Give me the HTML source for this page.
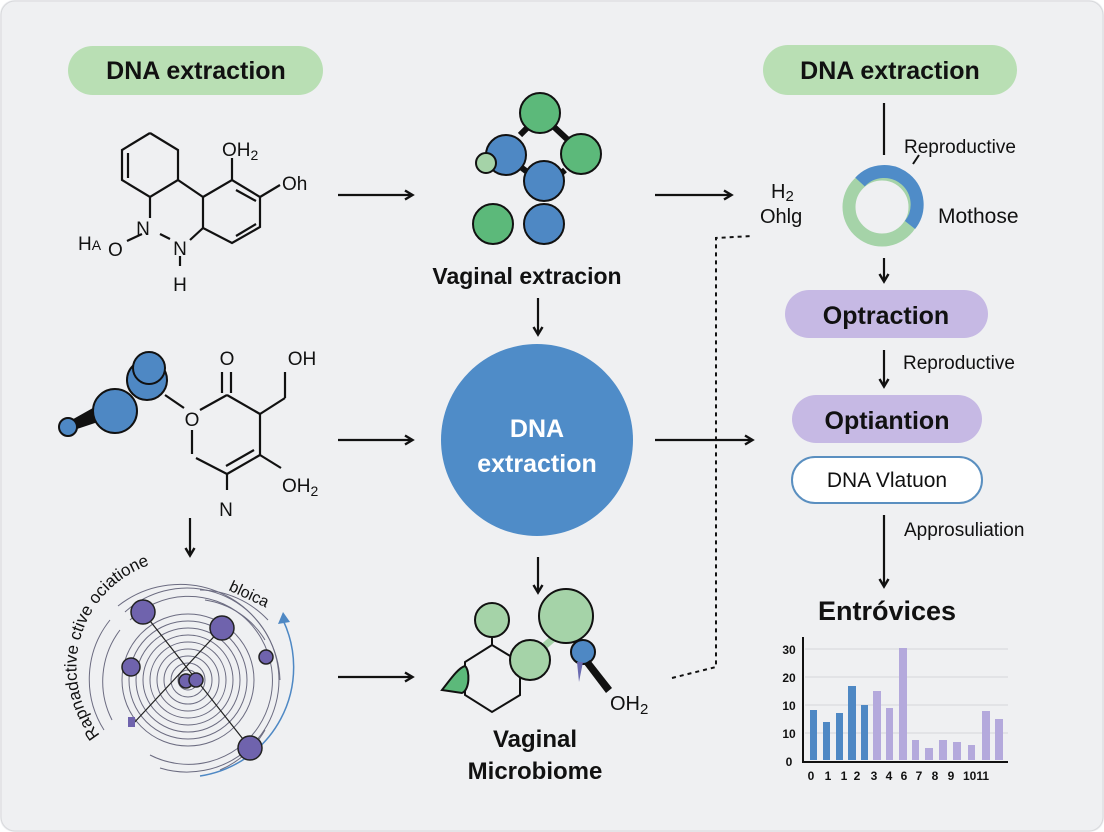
<!DOCTYPE html>
<html><head><meta charset="utf-8"><style>
html,body{margin:0;padding:0;background:#fff;}
svg{display:block;font-family:"Liberation Sans",sans-serif;}
</style></head><body>
<svg width="1104" height="832" viewBox="0 0 1104 832" xmlns="http://www.w3.org/2000/svg">
<defs>
<marker id="ah" markerWidth="12" markerHeight="12" refX="9" refY="6" orient="auto" markerUnits="userSpaceOnUse"><path d="M2,1.5 L9.5,6 L2,10.5" fill="none" stroke="#111" stroke-width="2.4"/></marker>
<path id="arcT" d="M100,735 A92,92 0 0 1 270,600"/>
</defs>
<rect x="0" y="0" width="1104" height="832" rx="14" fill="#eff0f2"/>
<rect x="1" y="1" width="1102" height="830" rx="14" fill="none" stroke="#d8d9dc"/>

<rect x="68" y="46" width="255" height="49" rx="24.5" fill="#b9dfb4"/>
<text x="196" y="79" font-size="25" font-weight="bold" text-anchor="middle" fill="#111">DNA extraction</text>
<rect x="763" y="45" width="254" height="50" rx="25" fill="#b9dfb4"/>
<text x="890" y="79" font-size="25" font-weight="bold" text-anchor="middle" fill="#111">DNA extraction</text>

<g stroke="#111" stroke-width="2.2" fill="none">
<polyline points="150,133 178,150 178,180 150,197 122,180 122,150 150,133"/>
<line x1="128" y1="153" x2="128" y2="178"/>
<line x1="178" y1="180" x2="203" y2="197"/>
<polyline points="203,197 232,180 260,197 260,227 232,243 203,228 203,197"/>
<line x1="236" y1="190" x2="256" y2="201"/>
<line x1="236" y1="236" x2="256" y2="224"/>
<line x1="232" y1="180" x2="232" y2="158"/>
<line x1="260" y1="197" x2="280" y2="185"/>
<line x1="150" y1="197" x2="150" y2="218"/>
<line x1="160" y1="234" x2="170" y2="239"/>
<line x1="190" y1="240" x2="203" y2="228"/>
<line x1="142" y1="234" x2="127" y2="241"/>
<line x1="180" y1="256" x2="180" y2="266"/>
</g>
<g font-size="19" fill="#111">
<text x="222" y="156">OH<tspan font-size="14" dy="4">2</tspan></text>
<text x="282" y="190">Oh</text>
<text x="143" y="235" text-anchor="middle">N</text>
<text x="180" y="255" text-anchor="middle">N</text>
<text x="180" y="291" text-anchor="middle">H</text>
<text x="78" y="250">H<tspan font-size="14">A</tspan></text>
<text x="108" y="256">O</text>
</g>

<g stroke="#111" stroke-width="2.2" fill="none">
<line x1="165" y1="395" x2="184" y2="408"/>
<line x1="200" y1="410" x2="227" y2="395"/>
<line x1="227" y1="395" x2="260" y2="414"/>
<line x1="222" y1="393" x2="222" y2="372"/><line x1="231" y1="393" x2="231" y2="372"/>
<line x1="260" y1="414" x2="285" y2="398"/><line x1="285" y1="398" x2="285" y2="372"/>
<line x1="260" y1="414" x2="260" y2="455"/>
<line x1="260" y1="455" x2="227" y2="474"/><line x1="254" y1="450" x2="226" y2="466"/>
<line x1="260" y1="455" x2="281" y2="468"/>
<line x1="192" y1="430" x2="192" y2="454"/>
<line x1="196" y1="458" x2="227" y2="474"/>
<line x1="227" y1="474" x2="227" y2="490"/>
</g>
<polygon points="68,422 100,404 104,420 68,432" fill="#111"/>
<g fill="#4e88c4" stroke="#111" stroke-width="2">
<circle cx="68" cy="427" r="9"/>
<circle cx="115" cy="411" r="22"/>
<circle cx="147" cy="380" r="20"/>
<circle cx="149" cy="368" r="16"/>
</g>
<g font-size="19" fill="#111">
<text x="192" y="426" text-anchor="middle">O</text>
<text x="227" y="365" text-anchor="middle">O</text>
<text x="302" y="365" text-anchor="middle">OH</text>
<text x="282" y="492">OH<tspan font-size="14" dy="4">2</tspan></text>
<text x="226" y="516" text-anchor="middle">N</text>
</g>

<g stroke="#111" stroke-width="2">
<line x1="520" y1="135" x2="530" y2="125" stroke-width="6"/>
<line x1="552" y1="125" x2="568" y2="140" stroke-width="6"/>
<line x1="565" y1="170" x2="558" y2="176" stroke-width="6"/>
<line x1="522" y1="168" x2="530" y2="174" stroke-width="6"/>
<circle cx="540" cy="113" r="20" fill="#5cb97a"/>
<circle cx="506" cy="155" r="20" fill="#4e88c4"/>
<circle cx="581" cy="154" r="20" fill="#5cb97a"/>
<circle cx="544" cy="181" r="20" fill="#4e88c4"/>
<circle cx="486" cy="163" r="10" fill="#a5d3a8"/>
<circle cx="493" cy="224" r="20" fill="#5cb97a"/>
<circle cx="544" cy="224" r="20" fill="#4e88c4"/>
</g>
<text x="527" y="284" font-size="23" font-weight="bold" text-anchor="middle" fill="#111">Vaginal extracion</text>

<circle cx="537" cy="440" r="96" fill="#4f8cc8"/>
<text x="537" y="437" font-size="25" font-weight="bold" fill="#fff" text-anchor="middle">DNA</text>
<text x="537" y="472" font-size="25" font-weight="bold" fill="#fff" text-anchor="middle">extraction</text>

<g stroke="#111" stroke-width="2.2" marker-end="url(#ah)">
<line x1="338" y1="195" x2="412" y2="195"/>
<line x1="338" y1="440" x2="412" y2="440"/>
<line x1="338" y1="677" x2="412" y2="677"/>
<line x1="655" y1="195" x2="731" y2="195"/>
<line x1="655" y1="440" x2="752" y2="440"/>
<line x1="538" y1="298" x2="538" y2="334"/>
<line x1="538" y1="557" x2="538" y2="592"/>
<line x1="190" y1="518" x2="190" y2="555"/>
<line x1="884" y1="258" x2="884" y2="281"/>
<line x1="884" y1="350" x2="884" y2="386"/>
<line x1="884" y1="515" x2="884" y2="586"/>
</g>
<line x1="884" y1="103" x2="884" y2="155" stroke="#111" stroke-width="2.2"/>
<polyline points="672,678 716,667 716,238 752,236" fill="none" stroke="#111" stroke-width="2" stroke-dasharray="4,4"/>

<g fill="none" stroke="#6b6b80" stroke-width="1">
<circle cx="188" cy="680" r="10"/><circle cx="188" cy="680" r="17"/><circle cx="188" cy="680" r="24"/>
<circle cx="188" cy="680" r="31"/><circle cx="188" cy="680" r="38"/><circle cx="188" cy="680" r="45"/>
<circle cx="188" cy="680" r="52"/><circle cx="188" cy="680" r="59"/><circle cx="188" cy="680" r="66"/>
<path d="M130,620 A84,84 0 1 1 150,755"/>
<path d="M125,612 A92,92 0 1 1 160,768"/>
<path d="M118,606 A100,100 0 0 1 280,680"/>
<path d="M112,720 A85,85 0 0 1 120,630"/>
<path d="M104,730 A95,95 0 0 1 110,620"/>
<path d="M205,600 A85,85 0 0 1 265,640"/>
<path d="M200,590 A95,95 0 0 1 268,620"/>
<path d="M265,730 A95,95 0 0 1 220,770"/>
</g>
<path d="M283,620 A110,110 0 0 1 200,776" fill="none" stroke="#4e88c4" stroke-width="1.5"/>
<polygon points="283,612 278,624 290,622" fill="#4e88c4"/>
<g stroke="#222" stroke-width="1.2"><line x1="143" y1="612" x2="250" y2="748"/><line x1="222" y1="628" x2="132" y2="725"/></g>
<g fill="#6f63ad" stroke="#222" stroke-width="1.5">
<circle cx="143" cy="612" r="12"/><circle cx="222" cy="628" r="12"/>
<circle cx="131" cy="667" r="9"/><circle cx="266" cy="657" r="7"/>
<circle cx="186" cy="681" r="7"/><circle cx="196" cy="680" r="7"/>
<circle cx="250" cy="748" r="12"/>
</g>
<rect x="128" y="717" width="7" height="10" fill="#6f63ad"/>
<text font-size="17" fill="#111"><textPath href="#arcT">Rapnadctive ctive ociatione</textPath></text>
<text x="228" y="590" font-size="16" fill="#111" transform="rotate(25 228 590)">bloica</text>

<g stroke="#111" stroke-width="2" fill="none">
<polyline points="492,645 520,662 520,695 492,712 465,695 465,662 492,645"/>
<line x1="492" y1="638" x2="492" y2="645"/>
</g>
<path d="M442,690 C450,680 458,668 465,666 C470,670 470,690 462,693 Z" fill="#5cb97a" stroke="#111" stroke-width="2"/>
<g stroke="#111" stroke-width="2">
<circle cx="492" cy="620" r="17" fill="#a5d3a8"/>
<line x1="540" y1="650" x2="556" y2="636" stroke-width="7" stroke="#a5d3a8"/>
<circle cx="530" cy="660" r="20" fill="#a5d3a8"/>
<circle cx="566" cy="616" r="27" fill="#a5d3a8"/>
<circle cx="583" cy="652" r="12" fill="#4e88c4"/>
</g>
<polygon points="590,660 612,688 606,693 584,664" fill="#111"/>
<polygon points="577,662 583,662 579,682" fill="#6a6ab0"/>
<text x="610" y="710" font-size="20" fill="#111">OH<tspan font-size="15" dy="4">2</tspan></text>
<text x="535" y="747" font-size="24" font-weight="bold" text-anchor="middle" fill="#111">Vaginal</text>
<text x="535" y="779" font-size="24" font-weight="bold" text-anchor="middle" fill="#111">Microbiome</text>

<text x="771" y="198" font-size="20" fill="#111">H<tspan font-size="15" dy="3">2</tspan></text>
<text x="760" y="223" font-size="20" fill="#111">Ohlg</text>
<circle cx="882" cy="207" r="33" fill="none" stroke="#a5d3a8" stroke-width="13"/>
<path d="M860,182 A33,33 0 0 1 910,225" fill="none" stroke="#4f8cc8" stroke-width="13"/>
<line x1="913" y1="164" x2="919" y2="155" stroke="#111" stroke-width="2"/>
<text x="904" y="153" font-size="19" fill="#111">Reproductive</text>
<text x="938" y="223" font-size="21" fill="#111">Mothose</text>

<rect x="785" y="290" width="203" height="48" rx="24" fill="#c6b9e4"/>
<text x="886" y="324" font-size="25" font-weight="bold" text-anchor="middle" fill="#111">Optraction</text>
<text x="903" y="369" font-size="19" fill="#111">Reproductive</text>
<rect x="792" y="395" width="190" height="48" rx="24" fill="#c6b9e4"/>
<text x="887" y="429" font-size="25" font-weight="bold" text-anchor="middle" fill="#111">Optiantion</text>
<rect x="792" y="457" width="190" height="46" rx="23" fill="#fff" stroke="#5a8fc0" stroke-width="2"/>
<text x="887" y="487" font-size="21" text-anchor="middle" fill="#111">DNA Vlatuon</text>
<text x="904" y="536" font-size="19" fill="#111">Approsuliation</text>
<text x="887" y="620" font-size="27" font-weight="bold" text-anchor="middle" fill="#111">Entróvices</text>

<g stroke="#d5d6da" stroke-width="1">
<line x1="805" y1="649" x2="1008" y2="649"/><line x1="805" y1="677" x2="1008" y2="677"/>
<line x1="805" y1="705" x2="1008" y2="705"/><line x1="805" y1="733" x2="1008" y2="733"/>
</g>
<g fill="#4e88c4">
<rect x="810" y="710" width="7" height="50"/><rect x="823" y="722" width="7" height="38"/>
<rect x="836" y="713" width="7" height="47"/><rect x="848" y="686" width="8" height="74"/>
<rect x="861" y="705" width="7" height="55"/>
</g>
<g fill="#b4a9dc">
<rect x="873" y="691" width="8" height="69"/><rect x="886" y="708" width="7" height="52"/>
<rect x="899" y="648" width="8" height="112"/><rect x="912" y="740" width="7" height="20"/>
<rect x="925" y="748" width="8" height="12"/><rect x="939" y="740" width="8" height="20"/>
<rect x="953" y="742" width="8" height="18"/><rect x="968" y="745" width="7" height="15"/>
<rect x="982" y="711" width="8" height="49"/><rect x="995" y="719" width="8" height="41"/>
</g>
<polyline points="803,637 803,762 1008,762" fill="none" stroke="#111" stroke-width="2"/>
<g font-size="12" font-weight="bold" fill="#111" text-anchor="middle">
<text x="789" y="654">30</text><text x="789" y="682">20</text><text x="789" y="710">10</text>
<text x="789" y="738">10</text><text x="789" y="766">0</text>
<text x="811" y="780">0</text><text x="828" y="780">1</text><text x="844" y="780">1</text>
<text x="857" y="780">2</text><text x="874" y="780">3</text><text x="889" y="780">4</text>
<text x="904" y="780">6</text><text x="919" y="780">7</text><text x="935" y="780">8</text>
<text x="951" y="780">9</text><text x="976" y="780">1011</text>
</g>
</svg>
</body></html>
